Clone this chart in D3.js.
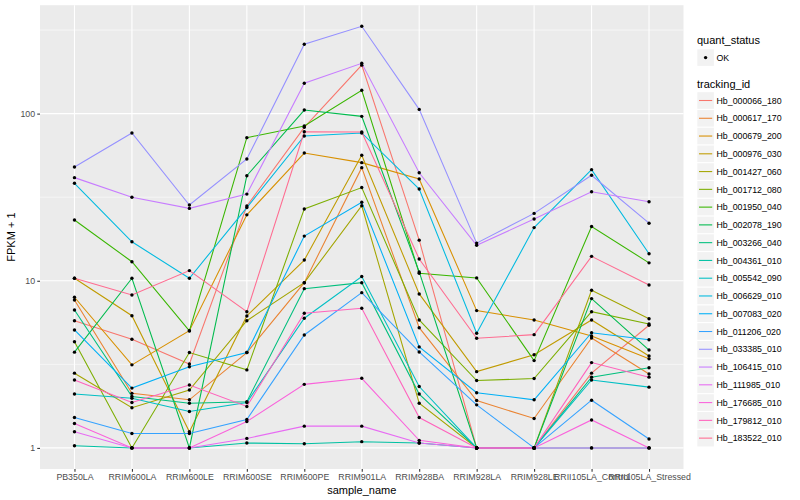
<!DOCTYPE html>
<html><head><meta charset="utf-8">
<script src="https://cdn.jsdelivr.net/npm/d3@7"></script>
<style>
body{margin:0;background:#fff;}
svg{display:block;font-family:"Liberation Sans",Arial,Helvetica,sans-serif;}
</style>
</head><body>
<svg id="chart" width="800" height="500"></svg>
<script>
// ---- data (values are FPKM + 1) ----
const samples = ["PB350LA","RRIM600LA","RRIM600LE","RRIM600SE","RRIM600PE","RRIM901LA","RRIM928BA","RRIM928LA","RRIM928LE","RRII105LA_Control","RRII105LA_Stressed"];
const trackingIds = ["Hb_000066_180","Hb_000617_170","Hb_000679_200","Hb_000976_030","Hb_001427_060","Hb_001712_080","Hb_001950_040","Hb_002078_190","Hb_003266_040","Hb_004361_010","Hb_005542_090","Hb_006629_010","Hb_007083_020","Hb_011206_020","Hb_033385_010","Hb_106415_010","Hb_111985_010","Hb_176685_010","Hb_179812_010","Hb_183522_010"];
const hb000066 = [5.77, 4.47, 3.18, 28.0, 82.8, 195, 17.5, 1.0, 1.0, 2.80, 5.42];
const hb000617 = [7.67, 2.12, 1.94, 3.72, 9.74, 47.5, 5.24, 1.92, 1.50, 4.55, 2.77];
const hb000679 = [7.97, 3.14, 5.03, 24.8, 58.1, 50.9, 40.6, 6.63, 5.83, 4.68, 3.41];
const hb000976 = [10.35, 6.18, 1.25, 6.16, 13.3, 56.3, 8.34, 2.86, 3.61, 5.83, 3.55];
const hb001427 = [2.80, 1.74, 2.22, 5.77, 9.74, 28.1, 1.85, 1.0, 1.0, 8.77, 5.93];
const hb001712 = [4.32, 1.0, 3.72, 2.93, 26.9, 36.1, 5.83, 2.53, 2.60, 6.53, 5.52];
const hb001950 = [23.1, 13.0, 5.01, 71.8, 84.3, 138, 11.1, 10.4, 3.33, 21.1, 12.8];
const hb002078 = [3.74, 10.35, 1.0, 42.5, 105, 96.3, 11.3, 1.0, 1.0, 7.82, 3.85];
const hb003266 = [6.69, 2.03, 1.85, 1.89, 8.97, 9.74, 2.10, 1.0, 1.0, 2.65, 3.02];
const hb004361 = [1.03, 1.0, 1.0, 1.07, 1.06, 1.09, 1.07, 1.0, 1.0, 1.0, 1.0];
const hb005542 = [2.10, 1.98, 1.65, 1.87, 5.97, 10.6, 2.33, 1.0, 1.0, 2.55, 2.31];
const hb006629 = [38.3, 17.1, 10.35, 27.4, 73.5, 76.6, 35.4, 4.85, 20.8, 46.2, 14.5];
const hb007083 = [5.08, 2.28, 3.06, 3.72, 18.5, 29.5, 4.02, 2.14, 1.94, 4.89, 4.44];
const hb011206 = [1.52, 1.22, 1.22, 1.48, 4.74, 8.49, 3.75, 1.81, 1.0, 1.93, 1.13];
const hb033385 = [47.9, 76.6, 28.4, 53.5, 260, 333, 106, 16.8, 25.3, 42.8, 22.1];
const hb106415 = [41.4, 31.6, 27.1, 33.0, 152, 200, 44.3, 16.3, 23.4, 34.1, 29.7];
const hb111985 = [1.25, 1.0, 1.0, 1.14, 1.35, 1.35, 1.07, 1.0, 1.0, 1.0, 1.0];
const hb176685 = [1.40, 1.0, 1.0, 1.44, 2.40, 2.61, 1.11, 1.0, 1.0, 1.47, 1.0];
const hb179812 = [2.55, 1.87, 2.38, 1.77, 6.39, 6.85, 1.52, 1.0, 1.0, 3.24, 2.65];
const hb183522 = [10.35, 8.22, 11.5, 6.53, 77.9, 77.6, 13.5, 4.53, 4.76, 14.0, 9.44];
const seriesValues = [hb000066,hb000617,hb000679,hb000976,hb001427,hb001712,hb001950,hb002078,hb003266,hb004361,hb005542,hb006629,hb007083,hb011206,hb033385,hb106415,hb111985,hb176685,hb179812,hb183522];
const yTickValues = [1, 10, 100];
const yTickLabels = ["1", "10", "100"];
const quantStatus = ["OK"];
const palette = ["#F8766D","#EA8331","#D89000","#C09B00","#A3A500","#7CAE00","#39B600","#00BB4E","#00BF7D","#00C1A3","#00BFC4","#00BAE0","#00B0F6","#35A2FF","#9590FF","#C77CFF","#E76BF3","#FA62DB","#FF62BC","#FF6C91"];

// ---- layout ----
const panel = {left: 40, right: 683.5, top: 5.2, bottom: 469};
const svg = d3.select("#chart");
svg.append("rect").attr("width", 800).attr("height", 500).attr("fill", "#fff");

const x = d3.scalePoint().domain(samples).range([panel.left, panel.right]).padding(0.6);
const allVals = seriesValues.flat();
const lmin = Math.log10(d3.min(allVals)), lmax = Math.log10(d3.max(allVals));
const ex = (lmax - lmin) * 0.05;
const y = d3.scaleLog().domain([Math.pow(10, lmin - ex), Math.pow(10, lmax + ex)]).range([panel.bottom, panel.top]);

// panel
svg.append("rect").attr("x", panel.left).attr("y", panel.top)
  .attr("width", panel.right - panel.left).attr("height", panel.bottom - panel.top)
  .attr("fill", "#EBEBEB");

const grid = svg.append("g");
const [d0, d1] = y.domain();
const minorVals = [];
for (let e = Math.floor(Math.log10(d0)) - 1; e <= Math.ceil(Math.log10(d1)); e++) {
  const v = Math.pow(10, e + 0.5);
  if (v > d0 && v < d1) minorVals.push(v);
}
grid.selectAll("line.minor").data(minorVals).join("line")
  .attr("x1", panel.left).attr("x2", panel.right)
  .attr("y1", d => y(d)).attr("y2", d => y(d))
  .attr("stroke", "#fff").attr("stroke-width", 0.55);
grid.selectAll("line.majory").data(yTickValues).join("line")
  .attr("x1", panel.left).attr("x2", panel.right)
  .attr("y1", d => y(d)).attr("y2", d => y(d))
  .attr("stroke", "#fff").attr("stroke-width", 1.1);
grid.selectAll("line.majorx").data(samples).join("line")
  .attr("x1", d => x(d)).attr("x2", d => x(d))
  .attr("y1", panel.top).attr("y2", panel.bottom)
  .attr("stroke", "#fff").attr("stroke-width", 1.1);

// lines
const line = d3.line().x((d, i) => x(samples[i])).y(d => y(d));
svg.append("g").selectAll("path").data(seriesValues).join("path")
  .attr("d", d => line(d))
  .attr("fill", "none")
  .attr("stroke", (d, i) => palette[i])
  .attr("stroke-width", 1.07);

// points
const pts = [];
seriesValues.forEach(s => s.forEach((v, i) => pts.push({s: samples[i], v})));
svg.append("g").selectAll("circle").data(pts).join("circle")
  .attr("cx", d => x(d.s)).attr("cy", d => y(d.v)).attr("r", 1.7).attr("fill", "#000");

// axes
const yAxis = svg.append("g").attr("transform", `translate(${panel.left},0)`)
  .call(d3.axisLeft(y).tickValues(yTickValues).tickFormat((d, i) => yTickLabels[i]).tickSize(2.75).tickPadding(2.2));
const xAxis = svg.append("g").attr("transform", `translate(0,${panel.bottom})`)
  .call(d3.axisBottom(x).tickSize(2.75).tickPadding(2.2));
[yAxis, xAxis].forEach(a => {
  a.select(".domain").remove();
  a.selectAll(".tick line").attr("stroke", "#333333").attr("stroke-width", 1.07);
  a.selectAll(".tick text").attr("fill", "#4D4D4D").style("font-size", "8.8px")
    .style("font-family", '"Liberation Sans",Arial,sans-serif');
});

// axis titles
svg.append("text").attr("x", (panel.left + panel.right) / 2).attr("y", 494)
  .attr("text-anchor", "middle").style("font-size", "11px").attr("fill", "#000").text("sample_name");
svg.append("text").attr("transform", `translate(15,${(panel.top + panel.bottom) / 2}) rotate(-90)`)
  .attr("text-anchor", "middle").style("font-size", "11px").attr("fill", "#000").text("FPKM + 1");

// legend
const lg = svg.append("g").attr("transform", "translate(697,0)");
lg.append("text").attr("x", 0).attr("y", 44).style("font-size", "11px").text("quant_status");
lg.append("rect").attr("x", 0.3).attr("y", 49.3).attr("width", 16.6).attr("height", 16.6).attr("fill", "#F2F2F2");
lg.selectAll("circle.q").data(quantStatus).join("circle")
  .attr("cx", 8.6).attr("cy", 57.6).attr("r", 1.7).attr("fill", "#000");
lg.selectAll("text.q").data(quantStatus).join("text")
  .attr("x", 19.5).attr("y", 60.8).style("font-size", "8.8px").text(d => d);

lg.append("text").attr("x", 0).attr("y", 88).style("font-size", "11px").text("tracking_id");
const keyStep = 17.77, keyTop = 92.2;
const keys = lg.selectAll("g.key").data(trackingIds).join("g")
  .attr("transform", (d, i) => `translate(0,${keyTop + i * keyStep})`);
keys.append("rect").attr("x", 0.3).attr("y", 0).attr("width", 16.6).attr("height", 16.6).attr("fill", "#F2F2F2");
keys.append("line").attr("x1", 2).attr("x2", 15.2).attr("y1", 8.3).attr("y2", 8.3)
  .attr("stroke", (d, i) => palette[i]).attr("stroke-width", 1.07);
keys.append("text").attr("x", 19.5).attr("y", 11.5).style("font-size", "8.8px").attr("fill", "#000").text(d => d);
</script>
</body></html>
